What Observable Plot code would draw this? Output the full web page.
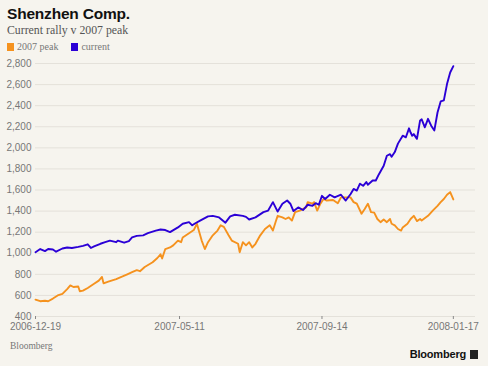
<!DOCTYPE html>
<html>
<head>
<meta charset="utf-8">
<script src="https://cdn.jsdelivr.net/npm/d3@7"></script>
<script src="https://cdn.jsdelivr.net/npm/@observablehq/plot@0.6"></script>
<style>
  html, body { margin: 0; padding: 0; background: #f6f4ee; }
  #wrap { position: relative; width: 488px; height: 366px; overflow: hidden; background: #f6f4ee; }
  #title { position: absolute; left: 7px; top: 5px; font: bold 15.5px "Liberation Sans", Arial, sans-serif; color: #111; letter-spacing: -0.2px; }
  #subtitle { position: absolute; left: 7px; top: 23px; font: 11.8px "Liberation Serif", "DejaVu Serif", serif; color: #555; }
  #legend { position: absolute; left: 7px; top: 41px; font: 10px "Liberation Serif", serif; color: #777; }
  #legend span.item { display: inline-flex; align-items: center; margin-right: 13px; }
  #legend span.sw { display: inline-block; width: 7px; height: 8px; margin-right: 3px; }
  #chart { position: absolute; left: 0; top: 55px; }
  #source { position: absolute; left: 10px; top: 341px; font: 9.5px "Liberation Serif", serif; color: #777; }
  #logo { position: absolute; right: 10px; top: 348px; font: bold 11px "Liberation Sans", Arial, sans-serif; color: #111; display: flex; align-items: center; letter-spacing: -0.2px; }
  #logo .box { display: inline-block; width: 8px; height: 9px; background: #222; margin-left: 4px; }
</style>
</head>
<body>
<div id="wrap">
  <div id="title">Shenzhen Comp.</div>
  <div id="subtitle">Current rally v 2007 peak</div>
  <div id="legend"></div>
  <div id="chart"></div>
  <div id="source">Bloomberg</div>
  <div id="logo">Bloomberg<span class="box"></span></div>
</div>
<script>
// Series names and colours
const seriesNames = ["2007 peak", "current"];
const seriesColors = ["#f5921e", "#2b00d6"];

// x-axis tick labels (trading-day index -> date)
const tickDays = [0, 91, 181, 264];
const tickLabels = ["2006-12-19", "2007-05-11", "2007-09-14", "2008-01-17"];

// y-axis ticks
const yTicks = [400, 600, 800, 1000, 1200, 1400, 1600, 1800, 2000, 2200, 2400, 2600, 2800];

// 2007 peak (orange): trading-day index and value
const peakDays = [0,3,6,8,11,14,17,20,22,24,27,28,30,33,37,40,42,43,46,51,55,58,61,64,66,69,74,77,79,80,82,85,87,90,92,93,97,100,102,103,105,107,109,112,115,117,119,122,124,128,129,131,133,135,137,139,142,145,148,150,152,153,156,158,160,162,164,167,171,172,175,176,178,180,182,184,188,191,193,196,199,201,203,206,208,210,212,214,216,218,220,222,224,225,227,229,231,232,235,237,239,241,243,244,248,251,254,256,258,260,262,264];
const peakVals = [560,545,550,545,570,600,615,660,695,680,685,640,645,670,710,740,775,715,730,755,780,800,820,840,830,870,915,955,990,950,1040,1055,1075,1120,1105,1150,1190,1220,1280,1225,1120,1040,1105,1170,1215,1265,1250,1170,1120,1090,1010,1105,1075,1105,1055,1090,1170,1230,1265,1215,1310,1355,1340,1325,1340,1310,1390,1405,1435,1485,1470,1485,1405,1470,1515,1500,1505,1475,1530,1530,1530,1485,1470,1375,1420,1470,1390,1385,1325,1295,1320,1295,1325,1280,1265,1230,1215,1245,1280,1325,1355,1305,1325,1310,1355,1405,1450,1485,1515,1555,1580,1510];

// current rally (blue): trading-day index and value
const curDays = [0,3,6,8,11,13,17,20,23,27,30,33,35,37,41,44,47,51,52,56,59,61,64,68,71,76,79,82,85,90,93,97,99,101,104,109,112,116,120,123,126,131,133,135,139,144,147,150,153,156,159,161,163,166,169,172,175,177,179,181,183,186,189,193,196,199,201,203,205,207,209,210,213,215,217,220,222,224,225,227,229,232,234,236,237,238,239,241,243,244,246,248,250,252,254,256,258,260,262,264];
const curVals = [1010,1040,1020,1040,1035,1015,1045,1055,1050,1060,1070,1085,1050,1065,1090,1105,1120,1105,1120,1100,1115,1150,1165,1170,1190,1215,1225,1220,1200,1245,1280,1295,1265,1285,1310,1350,1355,1340,1290,1350,1365,1355,1345,1320,1340,1390,1405,1485,1395,1470,1500,1470,1400,1435,1410,1460,1450,1475,1460,1545,1515,1555,1530,1555,1500,1560,1610,1595,1660,1640,1675,1650,1690,1690,1750,1830,1925,1940,1915,1960,2040,2115,2100,2185,2145,2115,2130,2085,2260,2270,2195,2275,2210,2165,2335,2440,2450,2605,2715,2775];

const peakData = peakDays.map((d, i) => ({day: d, value: peakVals[i], series: seriesNames[0]}));
const curData = curDays.map((d, i) => ({day: d, value: curVals[i], series: seriesNames[1]}));

// legend
const legend = document.getElementById("legend");
seriesNames.forEach((n, i) => {
  const it = document.createElement("span");
  it.className = "item";
  it.innerHTML = `<span class="sw" style="background:${seriesColors[i]}"></span>${n}`;
  legend.appendChild(it);
});

const fmtX = d => tickLabels[tickDays.indexOf(d)];

const chart = Plot.plot({
  width: 488,
  height: 280,
  marginLeft: 35,
  marginRight: 13,
  marginTop: 8,
  marginBottom: 19,
  style: {background: "transparent", fontFamily: "'Liberation Sans', Arial, sans-serif", fontSize: "10px", color: "#777"},
  x: {domain: [0, 278], label: null},
  y: {domain: [400, 2800], label: null},
  marks: [
    Plot.gridY(yTicks, {stroke: "#e4e1da", strokeOpacity: 1, strokeWidth: 1}),
    Plot.axisY(yTicks, {tickSize: 0, tickPadding: 4, tickFormat: d3.format(","), fill: "#777", label: null}),
    Plot.axisX(tickDays, {tickSize: 3, tickPadding: 3, tickFormat: fmtX, stroke: "#888", fill: "#777", label: null}),
    Plot.line(peakData, {x: "day", y: "value", stroke: seriesColors[0], strokeWidth: 1.9}),
    Plot.line(curData, {x: "day", y: "value", stroke: seriesColors[1], strokeWidth: 1.9})
  ]
});
document.getElementById("chart").appendChild(chart);
</script>
</body>
</html>
